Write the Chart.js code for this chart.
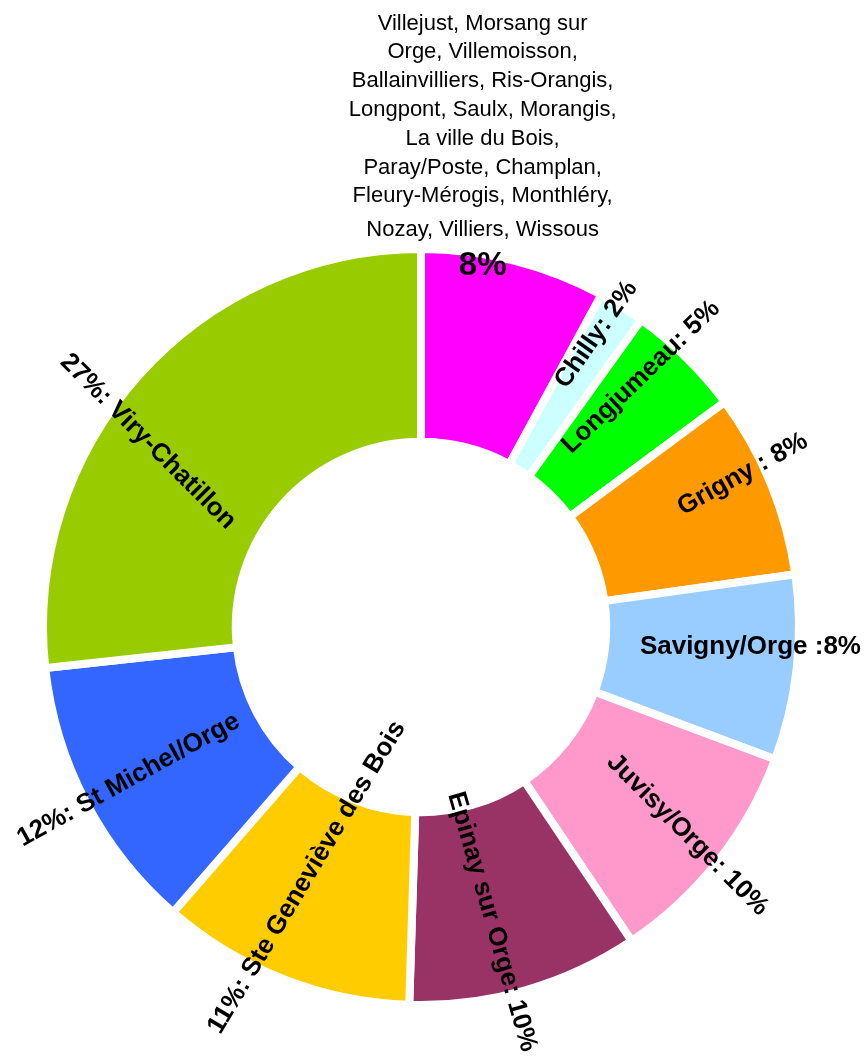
<!DOCTYPE html>
<html>
<head>
<meta charset="utf-8">
<script src="https://cdn.jsdelivr.net/npm/chart.js@4.4.1/dist/chart.umd.min.js"></script>
<style>
  html, body { margin: 0; padding: 0; background: #ffffff; }
  #wrap { width: 867px; height: 1059px; position: relative; }
</style>
</head>
<body>
<div id="wrap"><canvas id="c" width="867" height="1059"></canvas></div>
<script>
// ---- data ----
const categories = [
  "Villejust, Morsang sur Orge, Villemoisson, Ballainvilliers, Ris-Orangis, Longpont, Saulx, Morangis, La ville du Bois, Paray/Poste, Champlan, Fleury-Mérogis, Monthléry, Nozay, Villiers, Wissous",
  "Chilly", "Longjumeau", "Grigny", "Savigny/Orge", "Juvisy/Orge",
  "Epinay sur Orge", "Ste Geneviève des Bois", "St Michel/Orge", "Viry-Chatillon"
];
const percentages = [8, 2, 5, 8, 8, 10, 10, 11, 12, 27];
const sliceLabels = [
  "8%", "Chilly: 2%", "Longjumeau: 5%", "Grigny : 8%", "Savigny/Orge :8%",
  "Juvisy/Orge: 10%", "Epinay sur Orge: 10%", "11%: Ste Geneviève des Bois",
  "12%: St Michel/Orge", "27%: Viry-Chatillon"
];
const groupLines = [
  "Villejust, Morsang sur", "Orge, Villemoisson,", "Ballainvilliers, Ris-Orangis,",
  "Longpont, Saulx, Morangis,", "La ville du Bois,", "Paray/Poste, Champlan,",
  "Fleury-Mérogis, Monthléry,", "Nozay, Villiers, Wissous"
];

// ---- styles ----
const sliceColors = ["#FF00FF", "#CCFFFF", "#00FF00", "#FF9900", "#99CCFF",
                     "#FF99CC", "#993366", "#FFCC00", "#3366FF", "#99CC00"];
// label placement: fraction along arc, radius factor, rotation (deg)
const labelPlace = [
  {f: 0.34, r: 0.968, rot: 0},
  {f: 0.34, r: 0.902, rot: -55},
  {f: 0.32, r: 0.881, rot: -44},
  {f: 0.39, r: 0.942, rot: -29},
  {f: 0.40, r: 0.873, rot: 0},
  {f: 0.49, r: 0.894, rot: 45},
  {f: 0.57, r: 0.802, rot: 74},
  {f: 0.58, r: 0.728, rot: -59},
  {f: 0.50, r: 0.873, rot: -29},
  {f: 0.42, r: 0.873, rot: 45}
];
const FONT = "'Liberation Sans', Arial, Helvetica, sans-serif";

const labelPlugin = {
  id: 'sliceLabels',
  afterDatasetsDraw(chart) {
    const ctx = chart.ctx;
    const arcs = chart.getDatasetMeta(0).data;
    ctx.save();
    ctx.fillStyle = '#000000';
    arcs.forEach((arc, i) => {
      const p = arc.getProps(['x', 'y', 'startAngle', 'endAngle', 'outerRadius'], true);
      const lp = labelPlace[i];
      const a = p.startAngle + (p.endAngle - p.startAngle) * lp.f;
      const r = p.outerRadius * lp.r;
      const x = p.x + Math.cos(a) * r;
      const y = p.y + Math.sin(a) * r;
      ctx.save();
      ctx.translate(x, y);
      ctx.rotate(lp.rot * Math.PI / 180);
      ctx.textAlign = 'center';
      ctx.textBaseline = 'middle';
      ctx.font = (i === 0 ? 'bold 33px ' : 'bold 26px ') + FONT;
      ctx.fillText(sliceLabels[i], 0, 0);
      ctx.restore();
      if (i === 0) {
        // category names of the grouped slice, stacked above its value
        ctx.save();
        ctx.textAlign = 'center';
        ctx.textBaseline = 'alphabetic';
        ctx.font = '22px ' + FONT;
        const n = groupLines.length;
        let base = y - 30;
        ctx.fillText(groupLines[n - 1], x, base);
        base -= 34;
        for (let k = n - 2; k >= 0; k--) {
          ctx.fillText(groupLines[k], x, base);
          base -= 28.8;
        }
        ctx.restore();
      }
    });
    ctx.restore();
  }
};

new Chart(document.getElementById('c'), {
  type: 'doughnut',
  data: {
    labels: categories,
    datasets: [{
      data: percentages,
      backgroundColor: sliceColors,
      borderColor: '#ffffff',
      borderWidth: 8,
      borderJoinStyle: 'miter'
    }]
  },
  options: {
    responsive: false,
    animation: false,
    cutout: '49%',
    layout: { padding: { left: 39, top: 245, right: 64, bottom: 50 } },
    plugins: {
      legend: { display: false },
      tooltip: { enabled: false }
    }
  },
  plugins: [labelPlugin]
});
</script>
</body>
</html>
